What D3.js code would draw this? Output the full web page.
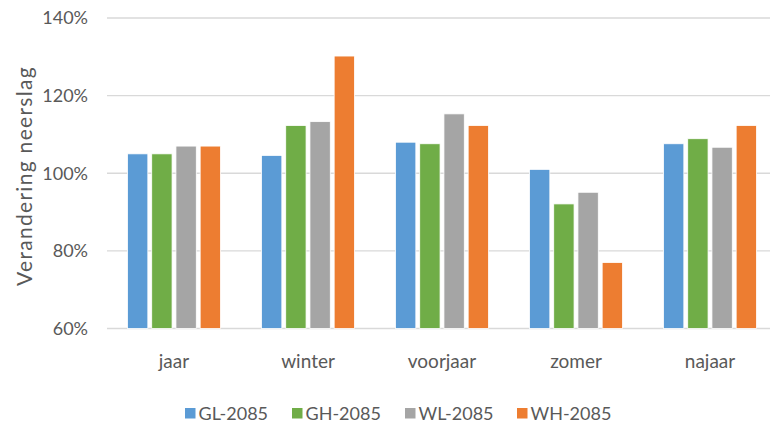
<!DOCTYPE html>
<html>
<head>
<meta charset="utf-8">
<script src="https://cdn.jsdelivr.net/npm/d3@7"></script>
<style>
  html, body { margin: 0; padding: 0; background: #fff; }
  svg { display: block; font-family: Lato, "Open Sans", sans-serif; }
</style>
</head>
<body>
<svg id="chart" width="770" height="426"></svg>
<script>
// Seasons along the x axis
const categories = ["jaar", "winter", "voorjaar", "zomer", "najaar"];
// Climate scenarios
const seriesNames = ["GL-2085", "GH-2085", "WL-2085", "WH-2085"];
const seriesColors = ["#5b9bd5", "#70ad47", "#a5a5a5", "#ed7d31"];
// Precipitation change (% of reference) per season, one array per scenario
const glValues = [105, 104.6, 108, 101, 107.6];
const ghValues = [105, 112.3, 107.6, 92.1, 108.9];
const wlValues = [107, 113.3, 115.3, 95.1, 106.7];
const whValues = [107, 130.2, 112.3, 77, 112.3];
const yTicks = [60, 80, 100, 120, 140];

const seriesValues = [glValues, ghValues, wlValues, whValues];

const svg = d3.select("#chart");
const textColor = "#595959";
const gridColor = "#d9d9d9";
const fontStack = "Lato, 'Open Sans', sans-serif";

const y = d3.scaleLinear().domain([60, 140]).range([328.5, 18]);
const x0 = d3.scaleBand().domain(categories).range([107, 777]).padding(0);
const x1 = d3.scaleBand().domain(seriesNames)
  .range([20.5, x0.bandwidth() - 20.5]).paddingInner(0.16);

// Gridlines
svg.append("g")
  .selectAll("line")
  .data(yTicks)
  .join("line")
  .attr("x1", 107).attr("x2", 770)
  .attr("y1", d => y(d)).attr("y2", d => y(d))
  .attr("stroke", gridColor).attr("stroke-width", 1.3);

// Y axis labels
const yAxis = d3.axisLeft(y).tickValues(yTicks).tickSize(0).tickPadding(0)
  .tickFormat(d => d + "%");
svg.append("g")
  .attr("transform", "translate(88,0)")
  .call(yAxis)
  .call(g => g.select(".domain").remove())
  .call(g => g.selectAll("text")
    .attr("fill", textColor)
    .style("font-size", "18px")
    .style("font-family", fontStack));

// Y axis title
svg.append("text")
  .attr("transform", "translate(32,176) rotate(-90)")
  .attr("text-anchor", "middle")
  .attr("fill", textColor)
  .style("font-size", "21px")
  .style("letter-spacing", "1.3px")
  .text("Verandering neerslag");

// Bars
const groups = svg.append("g")
  .selectAll("g")
  .data(categories)
  .join("g")
  .attr("transform", d => `translate(${x0(d)},0)`);

groups.selectAll("rect")
  .data((c, i) => seriesNames.map((s, k) => ({ s, v: seriesValues[k][i], k })))
  .join("rect")
  .attr("x", d => x1(d.s))
  .attr("width", x1.bandwidth())
  .attr("y", d => y(d.v))
  .attr("height", d => y(60) - y(d.v))
  .attr("fill", d => seriesColors[d.k])
  .attr("stroke", "#fff")
  .attr("stroke-width", 0.8);

// X axis category labels
const xAxis = d3.axisBottom(x0).tickSize(0).tickPadding(0);
svg.append("g")
  .attr("transform", "translate(0,354)")
  .call(xAxis)
  .call(g => g.select(".domain").remove())
  .call(g => g.selectAll("text")
    .attr("fill", textColor)
    .style("font-size", "19px")
    .style("font-family", fontStack));

// Legend
const legendX = [185, 292, 405, 517];
const legend = svg.append("g")
  .selectAll("g")
  .data(seriesNames)
  .join("g")
  .attr("transform", (d, i) => `translate(${legendX[i]},420)`);
legend.append("rect")
  .attr("x", 0).attr("y", -12).attr("width", 10.5).attr("height", 10.5)
  .attr("fill", (d, i) => seriesColors[i]);
legend.append("text")
  .attr("x", 13.5).attr("y", 0)
  .attr("fill", textColor)
  .style("font-size", "18px")
  .text(d => d);
</script>
</body>
</html>
